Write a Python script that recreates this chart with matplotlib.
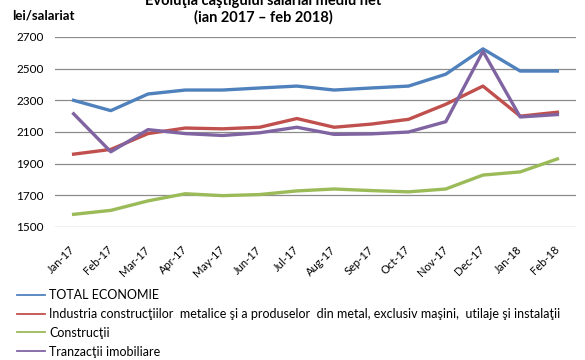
import matplotlib
matplotlib.use('Agg')
import matplotlib.pyplot as plt

plt.rcParams['font.family'] = ['Lato', 'DejaVu Sans']

months = ['Jan-17', 'Feb-17', 'Mar-17', 'Apr-17', 'May-17', 'Jun-17', 'Jul-17',
          'Aug-17', 'Sep-17', 'Oct-17', 'Nov-17', 'Dec-17', 'Jan-18', 'Feb-18']

total_economie = [2300, 2235, 2340, 2365, 2365, 2378, 2390, 2365, 2378, 2390, 2465, 2625, 2485, 2485]
industria_metal = [1960, 1990, 2090, 2125, 2120, 2130, 2185, 2130, 2150, 2180, 2275, 2390, 2200, 2225]
constructii = [1580, 1605, 1665, 1710, 1698, 1705, 1728, 1740, 1730, 1722, 1740, 1828, 1848, 1930]
tranzactii = [2215, 1975, 2115, 2090, 2078, 2095, 2130, 2085, 2088, 2100, 2165, 2610, 2195, 2210]

labels = ['TOTAL ECONOMIE',
          'Industria construcţiilor  metalice şi a produselor  din metal, exclusiv maşini,  utilaje şi instalaţii',
          'Construcţii',
          'Tranzacţii imobiliare']
colors = ['#4F81BD', '#C0504D', '#9BBB59', '#8064A2']
yticks = [1500, 1700, 1900, 2100, 2300, 2500, 2700]

fig = plt.figure(figsize=(5.85, 3.6), dpi=100)
ax = fig.add_axes([55/585, 1 - 227/360, (576-55)/585, 190/360])

x = range(len(months))
for series, c, lab in zip([total_economie, industria_metal, constructii, tranzactii], colors, labels):
    ax.plot(x, series, color=c, lw=2.4, label=lab)

ax.set_ylim(1500, 2700)
ax.set_xlim(-0.5, len(months) - 0.5)
ax.set_yticks(yticks)
ax.yaxis.grid(True, color='#8c8c8c', lw=0.9)
ax.set_axisbelow(True)
for s in ax.spines.values():
    s.set_visible(False)
ax.tick_params(axis='both', length=0, labelsize=8.5)
ax.tick_params(axis='y', pad=8)
ax.set_xticks(list(x))
ax.set_xticklabels(months, rotation=45, ha='right', va='center', rotation_mode='anchor', fontsize=8)
ax.tick_params(axis='x', pad=15)

# title is partly cut at the top, as in the source image
fig.text(263/585, 1 - 1/360, 'Evoluţia câştigului salarial mediu net', ha='center', va='center',
         fontsize=10.5, fontweight='bold')
fig.text(263/585, 1 - 17/360, '(ian 2017 – feb 2018)', ha='center', va='center',
         fontsize=10.5, fontweight='bold')
fig.text(12/585, 1 - 16/360, 'lei/salariat', ha='left', va='center', fontsize=9.5, fontweight='bold')

leg = fig.legend(loc='upper left', bbox_to_anchor=(17/585, 1 - 289/360), frameon=False,
                 fontsize=9, handlelength=2.2, handletextpad=0.35, labelspacing=0.55,
                 borderaxespad=0, borderpad=0)
for line in leg.get_lines():
    line.set_linewidth(1.3)

fig.savefig('out.png', dpi=100)
